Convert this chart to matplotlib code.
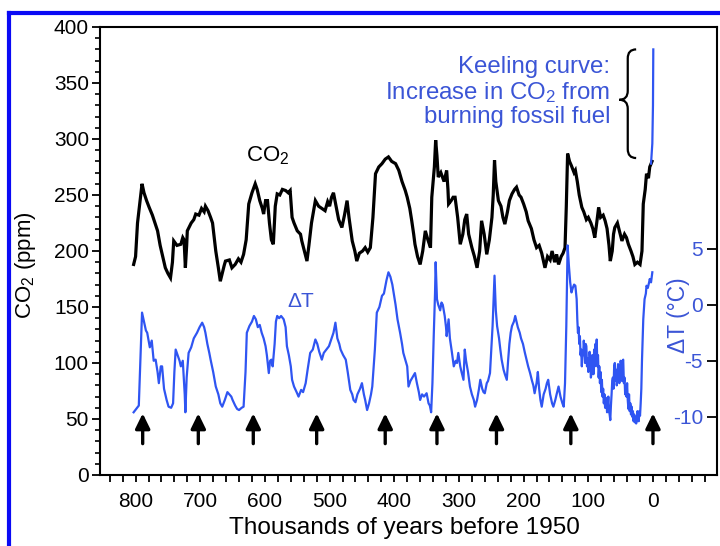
import matplotlib.pyplot as plt
from matplotlib.lines import Line2D
from matplotlib.patches import PathPatch
from matplotlib.path import Path
from matplotlib.ticker import MultipleLocator

plt.rcParams["font.family"] = ["Liberation Sans", "DejaVu Sans"]
plt.rcParams["mathtext.default"] = "regular"
plt.rcParams["axes.unicode_minus"] = False

# ---------------------------------------------------------------------------
# Data (ages in thousands of years before 1950)
# ---------------------------------------------------------------------------

co2_age = [803, 800, 797, 792, 790, 787, 783, 779, 774, 770, 766, 762, 758, 754,
           750, 746, 743, 741, 736, 730, 727, 725, 723, 721, 720, 714, 710, 707,
           702, 698, 694, 692, 688, 684, 681, 679, 676, 672, 669, 666, 663, 661,
           655, 651, 646, 641, 637, 633, 629, 625, 620, 615, 612, 608, 604, 602,
           599, 596, 593, 590, 587, 584, 581, 577, 573, 568, 564, 561, 558, 555,
           550, 545, 543, 539, 535, 532, 528, 522, 517, 512, 507, 503, 500, 497,
           494, 490, 486, 481, 477, 473, 470, 465, 461, 458, 454, 449, 445, 441,
           437, 433, 429, 424, 419, 414, 409, 404, 398, 393, 388, 383, 380, 376,
           373, 370, 368, 364, 360, 356, 352, 348, 344, 342, 338, 336, 334, 332,
           328, 323, 319, 317, 316, 312, 309, 306, 302, 298, 294, 291, 288, 285,
           280, 276, 272, 268, 265, 261, 257, 253, 249, 247, 245, 243, 239, 235,
           232, 229, 225, 222, 218, 214, 211, 207, 204, 200, 196, 193, 188, 184,
           180, 176, 172, 167, 163, 159, 156, 152, 149, 146, 142, 139, 136, 134,
           132, 129, 126, 122, 120, 117, 114, 110, 107, 103, 100, 96, 93, 90,
           87, 84, 81, 77, 74, 71, 68, 66, 63, 61, 59, 55, 52, 48, 44, 41,
           38, 34, 31, 28, 24, 20, 17, 15, 12, 10, 7, 5, 3, 1.5]
co2_ppm = [188, 195, 225, 250, 260, 252, 245, 239, 232, 225, 218, 205, 195, 185,
           180, 176, 190, 209, 205, 206, 212, 210, 185, 205, 218, 225, 228, 233,
           232, 238, 235, 240, 236, 230, 225, 215, 200, 185, 173, 180, 187, 191,
           192, 185, 188, 193, 190, 197, 210, 242, 252, 260, 255, 245, 238, 233,
           245, 245, 225, 210, 206, 240, 251, 250, 255, 254, 252, 254, 230, 225,
           218, 215, 209, 200, 191, 205, 225, 245, 240, 238, 236, 244, 240, 248,
           252, 240, 228, 221, 232, 245, 230, 209, 200, 191, 198, 200, 203, 199,
           203, 230, 269, 275, 278, 282, 284, 280, 278, 272, 262, 254, 248, 238,
           227, 215, 206, 195, 188, 200, 218, 210, 203, 248, 275, 299, 285, 266,
           270, 262, 272, 255, 242, 245, 248, 248, 230, 206, 215, 228, 233, 215,
           203, 195, 185, 200, 227, 215, 197, 210, 230, 250, 281, 262, 245, 240,
           230, 224, 235, 245, 251, 255, 257, 250, 248, 242, 235, 227, 220, 210,
           203, 205, 198, 185, 195, 192, 200, 190, 197, 188, 195, 198, 203, 240,
           287, 280, 276, 270, 272, 262, 250, 239, 235, 228, 230, 225, 220, 212,
           225, 239, 230, 232, 227, 220, 205, 191, 200, 215, 221, 225, 218, 209,
           215, 212, 206, 200, 195, 188, 190, 188, 200, 242, 255, 269, 265, 275,
           278, 280]

dt_age = [803, 799, 795, 792, 790, 787, 784, 782, 778, 775, 772, 769, 766, 764,
          761, 759, 756, 752, 749, 745, 742, 740, 738, 735, 732, 730, 727, 724,
          723, 721, 718, 714, 710, 705, 701, 697, 694, 692, 689, 686, 684, 680,
          676, 672, 669, 666, 662, 658, 655, 652, 650, 646, 643, 640, 636, 633,
          630, 628, 624, 620, 617, 614, 611, 608, 605, 602, 599, 597, 594, 592,
          590, 588, 585, 583, 581, 578, 575, 571, 568, 566, 563, 560, 558, 555,
          551, 548, 544, 541, 537, 534, 530, 526, 522, 519, 516, 512, 509, 505,
          501, 497, 494, 491, 488, 485, 483, 479, 475, 472, 468, 465, 463, 460,
          457, 453, 450, 447, 445, 442, 439, 436, 434, 430, 427, 423, 419, 416,
          412, 409, 406, 403, 401, 398, 395, 391, 388, 386, 383, 380, 378, 375,
          372, 368, 365, 362, 360, 357, 354, 350, 347, 345, 343, 341, 339, 337,
          336, 335, 334, 332, 329, 327, 325, 322, 320, 319, 316, 314, 311, 308,
          305, 303, 301, 298, 296, 293, 291, 289, 286, 283, 280, 277, 275, 272,
          269, 267, 264, 262, 260, 257, 255, 252, 250, 248, 246, 245, 244, 243,
          241, 238, 236, 234, 231, 229, 226, 224, 222, 220, 218, 215, 213, 211,
          209, 206, 204, 201, 198, 195, 193, 190, 187, 185, 183, 180, 178, 176,
          174, 172, 169, 166, 164, 162, 159, 156, 154, 151, 149, 146, 143, 140,
          138, 136, 134, 133, 132, 130, 128, 126, 124, 122, 120, 118,
          117, 116, 115, 114, 113, 112, 111, 110, 109, 108, 107, 106, 105, 104,
          103, 102, 101, 100, 99, 98, 97, 96, 95, 94, 93, 92, 91, 90,
          89, 88, 87, 86, 85, 84, 83, 82, 81, 80, 79, 78, 77, 76,
          75, 74, 73, 72, 71, 70, 69, 68, 67, 66, 65, 64, 63, 62,
          61, 60, 59, 58, 57, 56, 55, 54, 53, 52, 51, 50, 49, 48,
          47, 46, 45, 44, 43, 42, 41, 40, 39, 38, 37, 36, 35, 34,
          33, 32, 31, 30, 29, 28, 27, 26, 25, 24, 23, 22, 21, 20,
          19, 18, 17, 15, 13, 11, 10, 8, 6, 5, 3, 1]
dt_val = [-9.6, -9.3, -9.0, -4.0, -0.7, -1.5, -2.3, -2.5, -3.8, -3.2, -5.0, -4.9, -6.0, -7.0,
          -5.5, -5.5, -7.5, -8.5, -9.1, -9.2, -8.8, -6.0, -4.0, -4.5, -5.0, -5.5, -5.0, -8.0,
          -9.6, -6.5, -4.3, -3.8, -3.0, -2.5, -2.0, -1.6, -2.0, -2.5, -3.5, -4.3, -4.9, -6.0,
          -7.3, -8.0, -8.8, -9.1, -8.5, -7.8, -8.0, -8.2, -8.5, -9.0, -9.3, -9.4, -9.2, -9.1,
          -6.0, -2.5, -1.9, -1.5, -1.0, -1.3, -2.0, -1.8, -2.5, -3.0, -3.7, -4.5, -6.1, -5.0,
          -4.9, -5.5, -3.5, -1.5, -1.0, -1.2, -1.0, -1.3, -2.0, -3.7, -4.5, -5.5, -6.7, -7.3,
          -7.8, -8.2, -7.6, -7.8, -7.0, -5.8, -4.3, -4.0, -3.1, -3.5, -4.2, -4.9, -4.3, -4.0,
          -3.7, -3.0, -2.5, -1.6, -3.0, -3.5, -4.0, -4.5, -4.9, -6.0, -7.6, -8.0, -8.5, -8.7,
          -8.0, -7.5, -7.0, -8.0, -8.5, -9.4, -8.8, -8.0, -7.3, -4.0, -0.7, -0.2, 0.8, 1.0,
          2.2, 2.9, 2.5, 1.8, 1.1, 0.0, -1.3, -2.5, -3.5, -4.3, -4.9, -5.5, -7.3, -6.8,
          -6.5, -6.1, -7.0, -7.8, -8.5, -8.0, -8.2, -7.9, -8.8, -9.0, -9.6, -7.0, -2.8, 1.0,
          3.8, 2.0, 0.5, 0.0, -0.5, 0.2, 0.0, -1.0, -2.0, -2.8, -1.3, -3.0, -4.2, -5.5,
          -5.0, -5.2, -4.3, -5.5, -6.0, -6.7, -4.0, -5.0, -6.0, -7.3, -8.0, -8.5, -9.1, -8.5,
          -7.5, -6.7, -7.5, -7.8, -7.9, -7.0, -6.8, -6.1, -4.0, -1.9, 1.0, 2.6, 1.0, -0.5,
          -1.9, -3.0, -4.0, -4.9, -5.8, -6.2, -6.7, -5.0, -3.5, -2.5, -1.9, -1.5, -1.0, -1.5,
          -2.0, -2.5, -3.0, -3.5, -4.3, -5.0, -5.5, -6.1, -6.8, -7.2, -7.9, -7.0, -6.0, -7.5,
          -8.5, -9.1, -8.0, -7.5, -7.0, -6.7, -8.0, -8.8, -9.1, -8.5, -8.0, -7.3, -8.2, -8.8,
          -9.1, -7.0, -1.9, 2.0, 5.3, 3.5, 2.0, 1.1, 1.5, 1.8, 1.7, 0.5,
          -1.3, -2.5, -2.0, -3.5, -2.8, -4.5, -4.0, -5.5, -4.2, -4.5, -3.2, -4.0, -5.2, -3.5,
          -3.7, -5.5, -4.8, -6.0, -5.5, -4.2, -5.0, -6.5, -6.1, -4.5, -5.0, -6.2, -4.0, -5.5,
          -3.5, -5.0, -3.1, -5.5, -4.5, -6.5, -5.5, -7.0, -6.0, -7.8, -6.7, -8.2, -7.5, -8.8,
          -8.0, -9.2, -8.3, -8.5, -9.6, -9.0, -8.2, -9.5, -9.8, -10.3, -9.0, -8.0, -6.8, -6.5,
          -7.5, -5.5, -5.2, -6.8, -5.8, -7.2, -6.5, -5.3, -6.0, -7.0, -6.1, -5.0, -5.5, -6.8,
          -5.0, -4.9, -7.0, -6.5, -8.0, -7.5, -8.2, -7.0, -8.5, -9.3, -8.0, -9.5, -8.8, -9.8,
          -9.1, -10.0, -9.5, -10.4, -9.8, -10.5, -10.0, -10.6, -10.3, -9.5, -9.8, -10.4, -9.5, -9.9,
          -8.8, -7.5, -5.0, -1.3, 0.5, 1.0, 1.7, 1.5, 2.0, 2.3, 2.0, 2.9]

# Keeling curve (modern instrumental CO2) at the very end of the record
keeling_age = [3, 1, 0, -0.5]
keeling_ppm = [278, 296, 330, 380]

# ages of the terminations marked with arrows
arrow_age = [789, 703, 618, 520, 414, 334, 242, 127, 0]

x_ticks = [800, 700, 600, 500, 400, 300, 200, 100, 0]
co2_ticks = [0, 50, 100, 150, 200, 250, 300, 350, 400]
dt_ticks = [-10, -5, 0, 5]

# ---------------------------------------------------------------------------
# Styling
# ---------------------------------------------------------------------------

BLUE_LINE = "#2f55f2"
BLUE_TEXT = "#3b55d6"
FRAME = "#0a0af5"
FS = 15

fig = plt.figure(figsize=(7.2, 5.46), dpi=100)
ax = fig.add_axes([100 / 720, 1 - 475 / 546, 617 / 720, 448 / 546])
ax2 = ax.twinx()

# blue frame of the screenshot (left and top edge)
fig.add_artist(Line2D([9 / 720, 9 / 720], [0, 1 - 13 / 546], color=FRAME, lw=3))
fig.add_artist(Line2D([9 / 720, 1], [1 - 13 / 546, 1 - 13 / 546], color=FRAME, lw=3))

ax.plot(co2_age, co2_ppm, color="black", lw=2.3, solid_joinstyle="miter")
ax.plot(keeling_age, keeling_ppm, color=BLUE_LINE, lw=1.6)
ax2.plot(dt_age, dt_val, color=BLUE_LINE, lw=1.6)

ax.set_xlim(855, -99)
ax.set_ylim(0, 400)
ax2.set_ylim(-15.2, 24.8)

# termination arrows
for a in arrow_age:
    ax.annotate("", xy=(a, 55), xytext=(a, 28),
                arrowprops=dict(arrowstyle="-|>,head_length=0.45,head_width=0.22",
                                lw=2.4, color="black", mutation_scale=20,
                                shrinkA=0, shrinkB=0))

# brace next to the Keeling curve
bx, b_tip, b_end = 39, 52, 26
b_top, b_mid, b_bot, r = 380, 335, 283, 8
verts = [(b_end, b_top), (bx, b_top), (bx, b_top - r),
         (bx, b_mid + r), (bx, b_mid), (b_tip, b_mid),
         (bx, b_mid), (bx, b_mid - r),
         (bx, b_bot + r), (bx, b_bot), (b_end, b_bot)]
codes = [Path.MOVETO, Path.CURVE3, Path.CURVE3,
         Path.LINETO, Path.CURVE3, Path.CURVE3,
         Path.CURVE3, Path.CURVE3,
         Path.LINETO, Path.CURVE3, Path.CURVE3]
ax.add_patch(PathPatch(Path(verts, codes), fill=False, lw=1.6, edgecolor="black"))

ax.text(66, 342, "Keeling curve:\nIncrease in CO$_2$ from\nburning fossil fuel",
        ha="right", va="center", color=BLUE_TEXT, fontsize=17.3, linespacing=1.1)
ax.text(596, 285, "CO$_2$", ha="center", va="center", fontsize=FS + 1)
ax.text(545, 155, "ΔT", ha="center", va="center", color=BLUE_TEXT, fontsize=FS)

# axes, ticks, labels
for sp in ax.spines.values():
    sp.set_linewidth(1.5)
for sp in ax2.spines.values():
    sp.set_visible(False)

ax.set_xticks(x_ticks)
ax.xaxis.set_minor_locator(MultipleLocator(20))
ax.set_yticks(co2_ticks)
ax.yaxis.set_minor_locator(MultipleLocator(10))
ax.tick_params(axis="x", which="both", direction="out", length=5, width=1.3,
               labelsize=FS, pad=7)
ax.tick_params(axis="y", which="major", direction="out", length=6, width=1.3,
               labelsize=FS, pad=2)
ax.tick_params(axis="y", which="minor", direction="out", length=3.5, width=1.2)

ax2.set_yticks(dt_ticks)
ax2.tick_params(axis="y", direction="in", length=7, width=1.3, labelsize=FS,
                labelcolor=BLUE_TEXT, pad=-10)
for lab in ax2.get_yticklabels():
    lab.set_horizontalalignment("right")

ax.set_xlabel("Thousands of years before 1950", fontsize=17.6)
ax.xaxis.set_label_coords(0.494, -0.094)
ax.set_ylabel("CO$_2$ (ppm)", fontsize=16)
ax.yaxis.set_label_coords(-0.100, 0.469)
ax.text(0.937, 0.357, "ΔT (°C)", transform=ax.transAxes, rotation=90,
        ha="center", va="center", color=BLUE_TEXT, fontsize=16.5)

fig.savefig("out.png", dpi=100)
